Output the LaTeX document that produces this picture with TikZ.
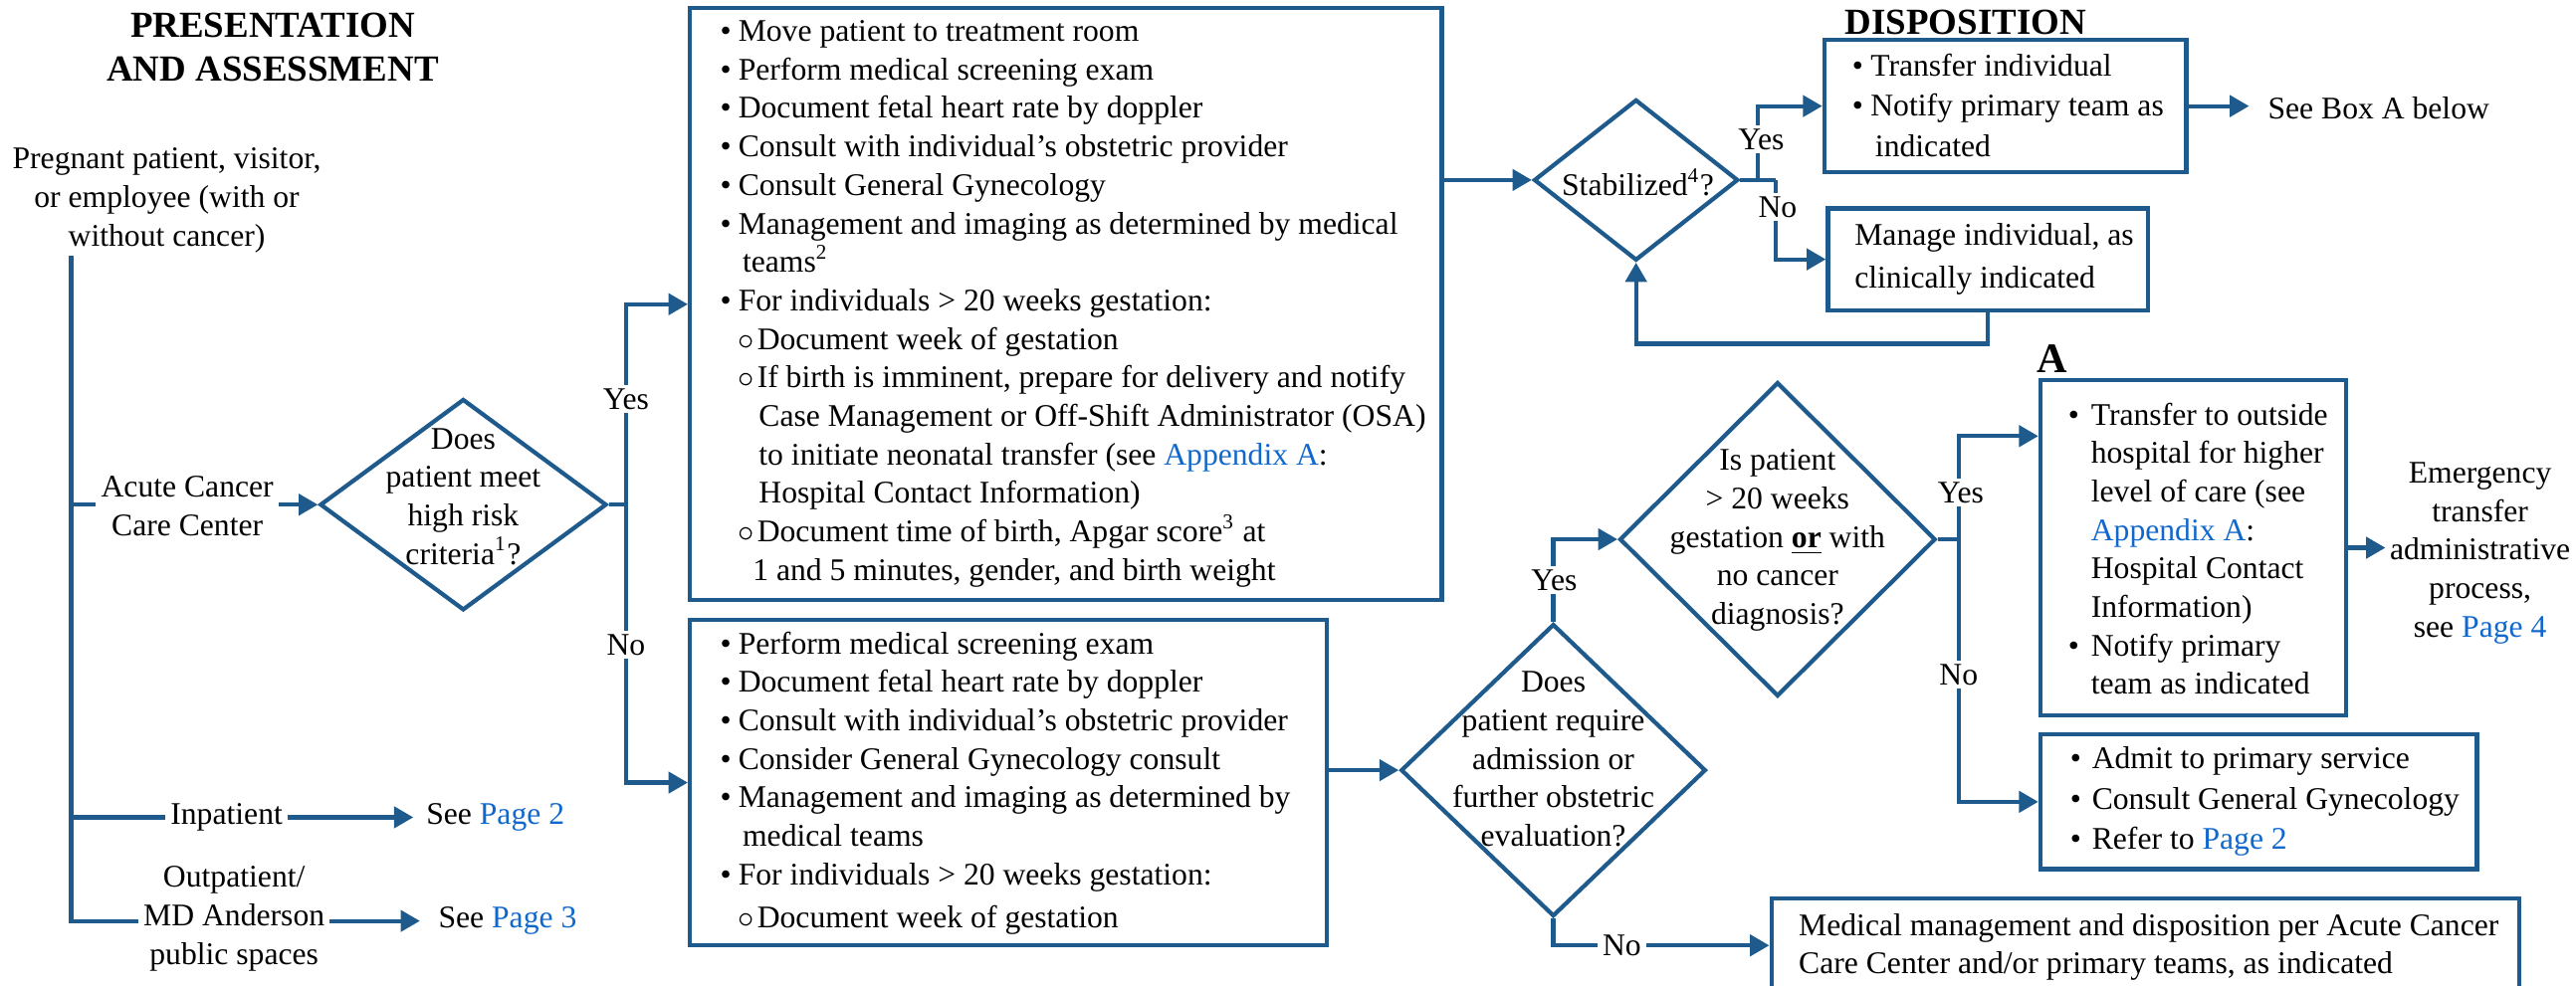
\documentclass[tikz,border=0pt]{standalone}
\usepackage{fontspec}
\setmainfont{Liberation Serif}
\usetikzlibrary{shapes.geometric,arrows.meta,calc}
\definecolor{mainblue}{HTML}{1F5A8C}
\definecolor{linkblue}{RGB}{17,104,204}
\newdimen\ovu \ovu=0.46947pt
\newcommand{\hs}[1]{\hspace*{#1\ovu}}
\newcommand{\bul}[1][11]{\makebox[#1\ovu][l]{\textbullet}}
\newcommand{\sbul}[1][11.5]{\makebox[#1\ovu][l]{$\circ$}}
\newcommand{\lnk}[1]{\textcolor{linkblue}{#1}}
\begin{document}
\begin{tikzpicture}[x=0.0165cm, y=-0.0165cm,
  font=\fontsize{9}{11}\selectfont,
  ln/.style={draw=mainblue, line width=1.2pt},
  arr/.style={draw=mainblue, line width=1.2pt, -{Triangle[length=5.5pt,width=6pt]}},
  box/.style={draw=mainblue, line width=1.2pt, rectangle, inner sep=0pt},
  dia/.style={draw=mainblue, line width=1.2pt, diamond, inner sep=0pt},
  txt/.style={inner sep=0pt, align=left, anchor=west},
  ctxt/.style={inner sep=0pt, align=center},
  lbl/.style={fill=white, inner xsep=1.5pt, inner ysep=1pt, align=center},
  ttl/.style={font=\fontsize{10.5}{12.5}\selectfont\bfseries, align=center, inner sep=0pt}
]
\useasboundingbox (0,0) rectangle (1568,600);

% titles
\node[ttl] (ttl1) at (166,29) {PRESENTATION\\AND ASSESSMENT};
\node[ttl] (ttl2) at (1196.5,13.6) {DISPOSITION};
\node[ttl, font=\fontsize{12}{14}\selectfont\bfseries] (ttlA) at (1249,218.5) {A};

% start
\node[ctxt] (start) at (101.5,122) {Pregnant patient, visitor,\\or employee (with or\\without cancer)};
\coordinate (t0) at (43.3,155.5);
\coordinate (t1) at (43.3,307.3);
\coordinate (t2) at (43.3,497.7);
\coordinate (t3) at (43.3,560.8);

% see page nodes
\node[anchor=west, inner xsep=3.5pt, inner ysep=0pt] (seep2) at (251.6,497.7) {See \lnk{Page 2}};
\node[anchor=west, inner xsep=5.1pt, inner ysep=0pt] (seep3) at (255.6,560.8) {See \lnk{Page 3}};

% diamond 1
\node[dia, minimum width={174.4*\ovu}, minimum height={128.6*\ovu}] (d1) at (282,307.3) {};
\node[ctxt] (d1t) at (282,302.4) {Does\\patient meet\\high risk\\criteria\textsuperscript{1}?};

% boxes 1 and 2
\node[box, minimum width={457.5*\ovu}, minimum height={360.5*\ovu}] (box1) at (648.75,185.25) {};
\node[txt] (box1t) at (438,185) {%
\bul Move patient to treatment room\\
\bul Perform medical screening exam\\
\bul Document fetal heart rate by doppler\\
\bul Consult with individual’s obstetric provider\\
\bul Consult General Gynecology\\
\bul Management and imaging as determined by medical\\
\hs{13.6}teams\textsuperscript{2}\\
\bul For individuals > 20 weeks gestation:\\
\hs{11}\sbul Document week of gestation\\
\hs{11}\sbul If birth is imminent, prepare for delivery and notify\\
\hs{23.5}Case Management or Off-Shift Administrator (OSA)\\
\hs{23.5}to initiate neonatal transfer (see \lnk{Appendix A}:\\
\hs{23.5}Hospital Contact Information)\\
\hs{11}\sbul Document time of birth, Apgar score\textsuperscript{3} at\\
\hs{19.8}1 and 5 minutes, gender, and birth weight};

\node[box, minimum width={387.5*\ovu}, minimum height={198.1*\ovu}] (box2) at (613.75,476.55) {};
\node[txt] (box2t) at (438,476.8) {%
\bul Perform medical screening exam\\
\bul Document fetal heart rate by doppler\\
\bul Consult with individual’s obstetric provider\\
\bul Consider General Gynecology consult\\
\bul Management and imaging as determined by\\
\hs{13.6}medical teams\\
\bul For individuals > 20 weeks gestation:\\[1.2pt]
\hs{11}\sbul Document week of gestation};

% diamond 2 and 3
\node[dia, minimum width={185.6*\ovu}, minimum height={178*\ovu}] (d2) at (945.5,469) {};
\node[ctxt] (d2t) at (945.5,462.3) {Does\\patient require\\admission or\\further obstetric\\evaluation?};
\node[dia, minimum width={192.3*\ovu}, minimum height={191.2*\ovu}] (d3) at (1082,328.4) {};
\node[ctxt] (d3t) at (1082,329) {Is patient\\> 20 weeks\\gestation \textbf{\underline{or}} with\\no cancer\\diagnosis?};

% medical box
\node[box, minimum width={455.1*\ovu}, minimum height={57.4*\ovu}] (med) at (1305.85,575.7) {};
\node[txt] (medt) at (1094.5,576.7) {Medical management and disposition per Acute Cancer\\Care Center and/or primary teams, as indicated};

% box A, admit, emergency
\node[box, minimum width={186.2*\ovu}, minimum height={204.1*\ovu}] (boxA) at (1335.1,333.55) {};
\node[txt] (boxAt) at (1258.5,334.1) {%
\bul[13.9]Transfer to outside\\
\hs{13.9}hospital for higher\\
\hs{13.9}level of care (see\\
\hs{13.9}\lnk{Appendix A}:\\
\hs{13.9}Hospital Contact\\
\hs{13.9}Information)\\
\bul[13.9]Notify primary\\
\hs{13.9}team as indicated};
\node[ctxt, inner sep=1.1pt] (emerg) at (1509.6,336.8) {Emergency\\transfer\\administrative\\process,\\see \lnk{Page 4}};
\node[box, minimum width={265.6*\ovu}, minimum height={81.9*\ovu}] (admit) at (1374.8,488.25) {};
\node[txt, font=\fontsize{9}{11.5}\selectfont] (admitt) at (1259.7,488.2) {%
\bul[13.3]Admit to primary service\\
\bul[13.3]Consult General Gynecology\\
\bul[13.3]Refer to \lnk{Page 2}};

% stabilized region
\node[dia, minimum width={124.3*\ovu}, minimum height={98*\ovu}] (d4) at (995.85,109.6) {};
\node[ctxt] (d4t) at (997,111) {Stabilized\textsuperscript{4}?};
\node[box, minimum width={220.3*\ovu}, minimum height={80.8*\ovu}] (transfer) at (1220.65,64.6) {};
\node[txt, font=\fontsize{9}{11.6}\selectfont] (transfert) at (1127,64.2) {%
\bul[11.2]Transfer individual\\
\bul[11.2]Notify primary team as\\
\hs{14}indicated};
\node[box, minimum width={194.8*\ovu}, minimum height={62*\ovu}] (manage) at (1210.1,157.9) {};
\node[txt, font=\fontsize{9}{12.3}\selectfont] (managet) at (1128.5,157.6) {Manage individual, as\\clinically indicated};
\node[anchor=west, inner xsep=5.2pt, inner ysep=0pt] (seeA) at (1369,65.7) {See Box A below};
\coordinate (s4a) at (1070,109.6);
\coordinate (s4) at (1081,109.6);
\coordinate (s1) at (381,307.3);
\coordinate (s3) at (1192.2,328.4);

% connectors
\draw[arr] (t0) -- (t3) -- (seep3.west);
\draw[arr] (t1) -- (d1.west);
\draw[arr] (t2) -- (seep2.west);
\draw[ln] (d1.east) -- (s1);
\draw[arr] (s1) |- (box1.west);
\draw[arr] (s1) |- (box2.west);
\draw[arr] (d2.west -| box2.east) -- (d2.west);
\draw[arr] (d2.north) |- (d3.west);
\draw[arr] (d2.south) |- (med.west);
\draw[ln] (d3.east) -- (s3);
\draw[arr] (s3) |- ($(boxA.west)+(0,-68)$);
\draw[arr] (s3) |- (admit.west);
\draw[arr] (boxA.east) -- (emerg.west |- boxA.east);
\draw[arr] (d4.west -| box1.east) -- (d4.west);
\draw[ln] (d4.east) -- (s4);
\draw[arr] (s4a) |- (transfer.west);
\draw[arr] (s4) |- (manage.west);
\draw[arr] (manage.south) -- ++(0,19.1) -| (d4.south);
\draw[arr] (transfer.east) -- (seeA.west |- transfer.east);

% labels on connectors
\node[lbl] (acute) at (114,308) {Acute Cancer\\Care Center};
\node[lbl] (inpat) at (137.9,497.7) {Inpatient};
\node[lbl] (outpat) at (142.5,559.5) {Outpatient/\\MD Anderson\\public spaces};
\node[lbl] (y1) at (381,243) {Yes};
\node[lbl] (n1) at (381,392.6) {No};
\node[lbl] (y2) at (946,353.3) {Yes};
\node[lbl] (n2) at (987.2,575.7) {No};
\node[lbl] (y3) at (1193.5,299.8) {Yes};
\node[lbl] (n3) at (1192.2,411) {No};
\node[lbl] (y4) at (1072,84.8) {Yes};
\node[lbl] (n4) at (1082,126) {No};
\end{tikzpicture}
\end{document}
